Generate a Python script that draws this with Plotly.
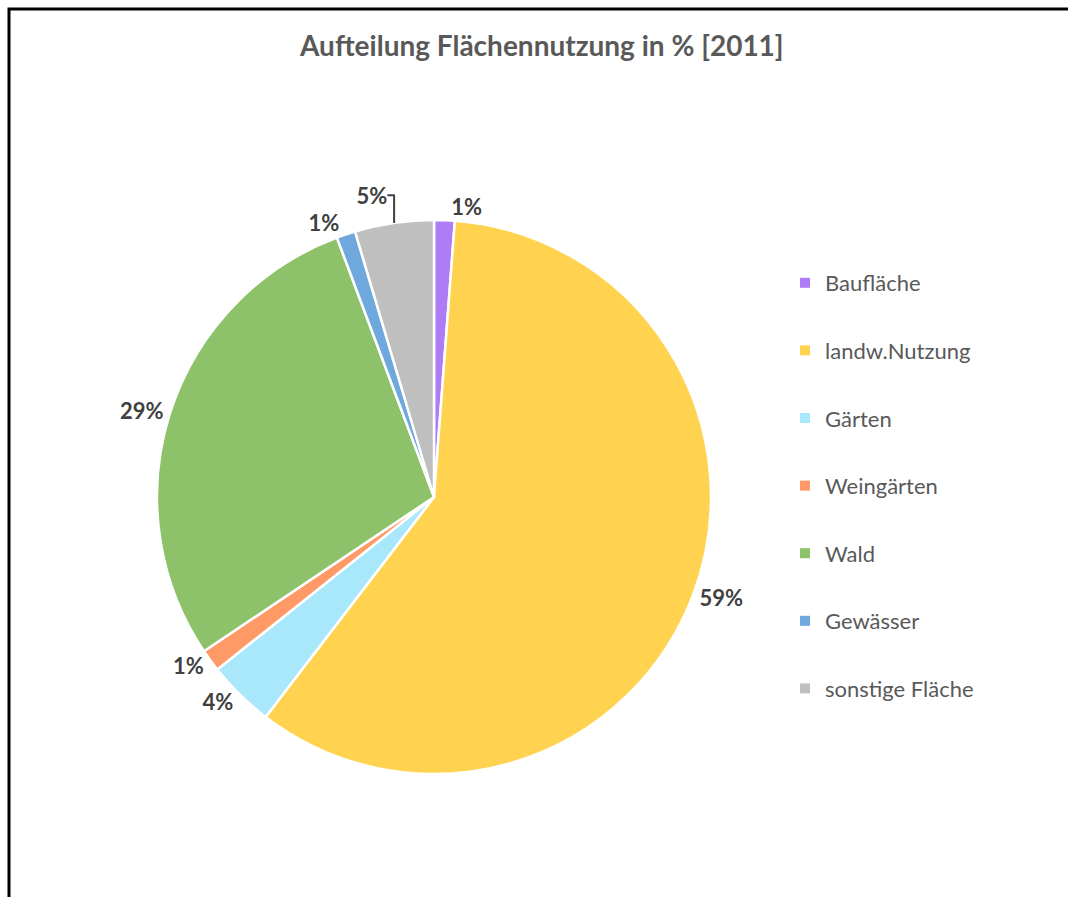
import plotly.graph_objects as go

categories = ["Baufläche", "landw.Nutzung", "Gärten", "Weingärten", "Wald", "Gewässer", "sonstige Fläche"]
values = [1.2, 59.2, 3.9, 1.3, 28.7, 1.1, 4.6]
colors = ["#AE7CF4", "#FFD34F", "#A9E7FB", "#FF9966", "#8DC26B", "#6FA8DC", "#BFBFBF"]
title_text = "Aufteilung Flächennutzung in % [2011]"

W, H = 1068, 897
FONT = "Lato, 'Open Sans', sans-serif"

fig = go.Figure()

cx, cy, r = 434, 497, 277
fig.add_trace(go.Pie(
    labels=categories,
    values=values,
    sort=False,
    direction="clockwise",
    rotation=0,
    marker=dict(colors=colors, line=dict(color="white", width=2.5)),
    texttemplate="%{percent:.0%}",
    textposition="outside",
    textfont=dict(family=FONT, size=22, color="#404040", weight="bold"),
    showlegend=False,
    hoverinfo="label+percent",
    domain=dict(x=[(cx - r) / W, (cx + r) / W], y=[1 - (cy + r) / H, 1 - (cy - r) / H]),
))

# legend entries
for cat, col in zip(categories, colors):
    fig.add_trace(go.Scatter(
        x=[None], y=[None], mode="markers", name=cat,
        marker=dict(symbol="square", size=10, color=col),
        legendgroup=cat, showlegend=True, hoverinfo="skip",
    ))

fig.update_layout(
    width=W, height=H,
    margin=dict(l=0, r=0, t=0, b=0),
    paper_bgcolor="white", plot_bgcolor="white",
    xaxis=dict(visible=False), yaxis=dict(visible=False),
    legend=dict(
        x=785 / W, y=1 - 262 / H, xanchor="left", yanchor="top",
        font=dict(family=FONT, size=22, color="#595959"),
        tracegroupgap=36, itemwidth=30, bgcolor="rgba(0,0,0,0)",
    ),
    annotations=[dict(
        text=title_text, x=541 / W, y=1 - 45 / H, xref="paper", yref="paper",
        xanchor="center", yanchor="middle", showarrow=False,
        font=dict(family=FONT, size=28, color="#595959", weight="bold"),
    )],
    shapes=[dict(
        type="rect", xref="paper", yref="paper",
        x0=9 / W, y0=-0.05, x1=1.05, y1=1 - 9 / H,
        line=dict(color="black", width=3),
    )],
)

fig.write_html("out.html")
